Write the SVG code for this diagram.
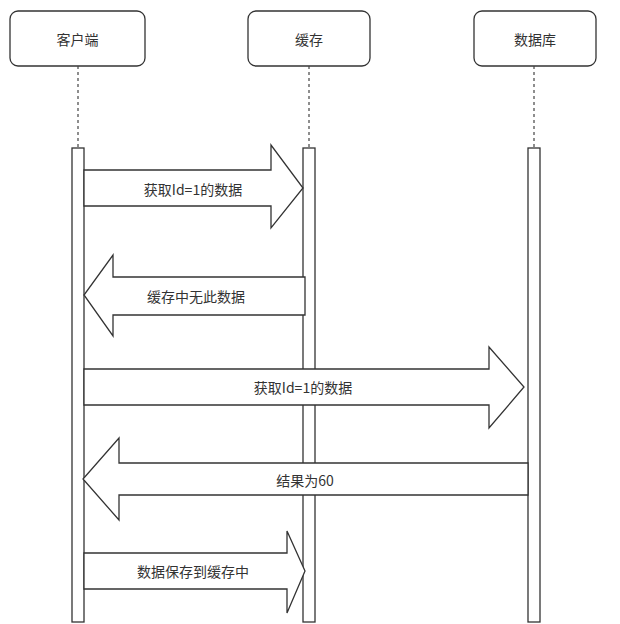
<svg xmlns="http://www.w3.org/2000/svg" width="620" height="624" viewBox="0 0 620 624">
<style>
.box{fill:#fff;stroke:#333;stroke-width:1.3}
.life{stroke:#444;stroke-width:1.2;stroke-dasharray:3,3;fill:none}
.bar{fill:#fff;stroke:#333;stroke-width:1.3}
.arr{fill:#fff;stroke:#333;stroke-width:1.3;stroke-linejoin:miter}
text{font-family:"Noto Sans CJK SC","Liberation Sans",sans-serif;font-size:14px;fill:#333;text-anchor:middle;dominant-baseline:central}
</style>
<rect width="620" height="624" fill="#fff"/>
<g id="client">
<rect class="box" x="10" y="11" width="135" height="55" rx="8"/>
<text x="77.5" y="39">客户端</text>
<line class="life" x1="78" y1="66" x2="78" y2="148"/>
<rect class="bar" x="72" y="148" width="12" height="474"/>
</g>
<g id="cache">
<rect class="box" x="248" y="11" width="122" height="55" rx="8"/>
<text x="309" y="39">缓存</text>
<line class="life" x1="309" y1="66" x2="309" y2="148"/>
<rect class="bar" x="303" y="148" width="12" height="474"/>
</g>
<g id="db">
<rect class="box" x="474" y="11" width="122" height="55" rx="8"/>
<text x="535" y="39">数据库</text>
<line class="life" x1="534" y1="66" x2="534" y2="148"/>
<rect class="bar" x="528" y="148" width="12" height="474"/>
</g>
<g id="connectors">
<path class="arr" d="M84,170 H271 V145 L303,188 L271,228 V206 H84 Z"/>
<text x="193" y="189">获取Id=1的数据</text>
<path class="arr" d="M305,277 H113 V255 L84,295 L113,336 V315 H305 Z"/>
<text x="196" y="296">缓存中无此数据</text>
<path class="arr" d="M84,369 H489 V347 L524,387 L489,428 V405 H84 Z"/>
<text x="303" y="387">获取Id=1的数据</text>
<path class="arr" d="M528,463 H119 V438 L83,479 L119,520 V495 H528 Z"/>
<text x="305" y="480">结果为60</text>
<path class="arr" d="M84,553 H287 V531 L305,571 L287,613 V589 H84 Z"/>
<text x="193" y="571">数据保存到缓存中</text>
</g>
</svg>
